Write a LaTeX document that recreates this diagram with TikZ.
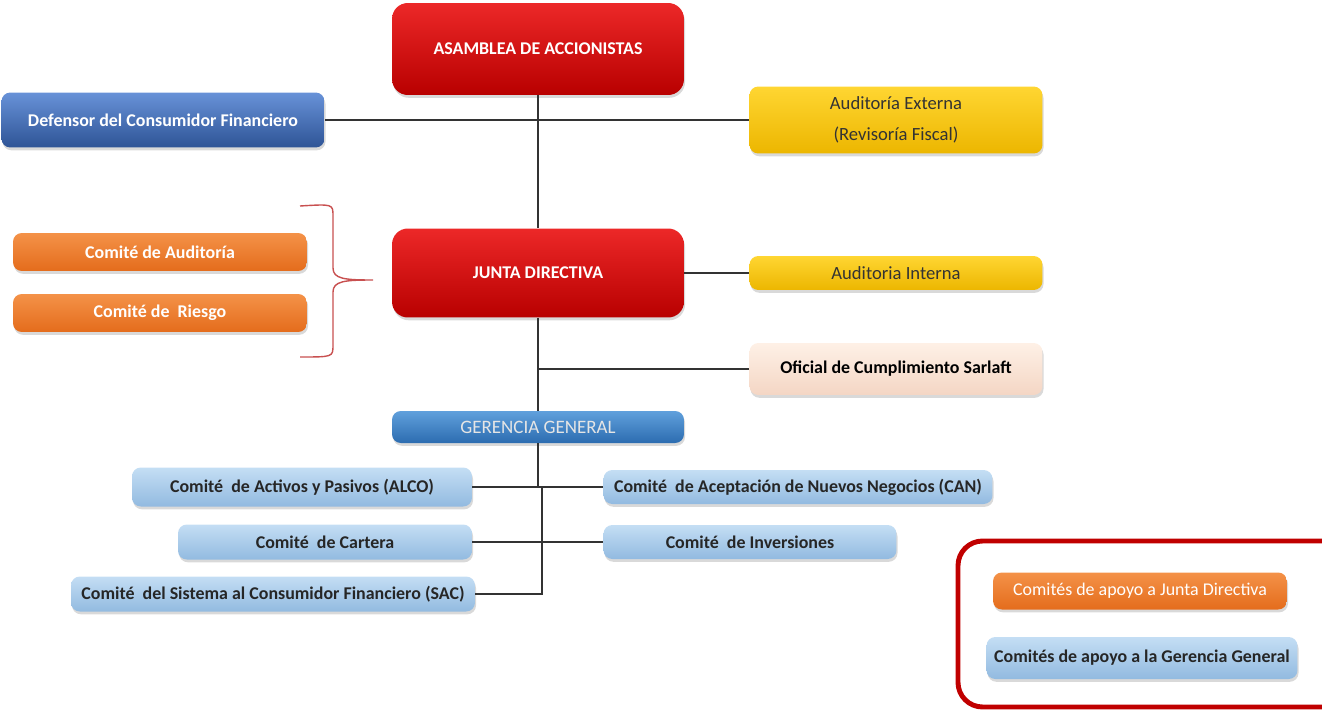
\documentclass[tikz,border=0pt]{standalone}
\usepackage{fontspec}
\setmainfont{Carlito}
\usepackage{tikz}
\usetikzlibrary{positioning,shadows}

\definecolor{rojoA}{RGB}{236,40,40}
\definecolor{rojoB}{RGB}{184,0,0}
\definecolor{azulA}{RGB}{104,146,216}
\definecolor{azulB}{RGB}{46,84,150}
\definecolor{amaA}{RGB}{255,214,50}
\definecolor{amaB}{RGB}{236,182,0}
\definecolor{narA}{RGB}{244,146,72}
\definecolor{narB}{RGB}{228,108,28}
\definecolor{celA}{RGB}{196,222,244}
\definecolor{celB}{RGB}{146,186,224}
\definecolor{rosaA}{RGB}{254,240,230}
\definecolor{rosaB}{RGB}{244,214,196}
\definecolor{gerA}{RGB}{96,160,220}
\definecolor{gerB}{RGB}{44,108,176}
\definecolor{llave}{RGB}{200,80,80}
\definecolor{marco}{RGB}{192,0,0}

\tikzset{
    cargo/.style={shape=rectangle, rounded corners=5pt, inner sep=0pt, align=center,
        font=\fontsize{10.2}{12}\selectfont,
        drop shadow={opacity=0.3, shadow xshift=0.6pt, shadow yshift=-1.6pt}},
    rojo/.style={cargo, top color=rojoA, bottom color=rojoB, text=white, font=\fontsize{10.2}{12}\selectfont\bfseries, rounded corners=9pt},
    azul/.style={cargo, top color=azulA, bottom color=azulB, text=white, font=\fontsize{10.2}{12}\selectfont\bfseries},
    amarillo/.style={cargo, top color=amaA, bottom color=amaB, text=black!80, font=\fontsize{10.6}{12}\selectfont},
    naranja/.style={cargo, top color=narA, bottom color=narB, text=white, font=\fontsize{10.2}{12}\selectfont\bfseries},
    celeste/.style={cargo, top color=celA, bottom color=celB, text=black!85, font=\fontsize{10.2}{12}\selectfont\bfseries},
    linea/.style={draw=black!80, line width=0.6pt}
}

\begin{document}
\begin{tikzpicture}[x=0.02cm, y=-0.02cm]
    \useasboundingbox (0,0) rectangle (1322,710);

    % organos de gobierno
    \node[rojo, minimum width=5.84cm, minimum height=1.84cm] (Asamblea) at (538,49) {ASAMBLEA DE ACCIONISTAS};
    \node[azul, minimum width=6.46cm, minimum height=1.1cm] (Defensor) at (163,120) {Defensor del Consumidor Financiero};
    \node[amarillo, minimum width=5.86cm, minimum height=1.34cm, font=\fontsize{10.6}{17.5}\selectfont] (AuditoriaExterna) at (896,120) {Auditoría Externa\\(Revisoría Fiscal)};
    \node[rojo, minimum width=5.84cm, minimum height=1.78cm] (JuntaDirectiva) at (538,273) {JUNTA DIRECTIVA};
    \node[amarillo, minimum width=5.86cm, minimum height=0.68cm] (AuditoriaInterna) at (896,273) {Auditoria Interna};
    \node[naranja, minimum width=5.88cm, minimum height=0.76cm] (ComiteAuditoria) at (160,252) {Comité de Auditoría};
    \node[naranja, minimum width=5.88cm, minimum height=0.76cm] (ComiteRiesgo) at (160,313) {Comité de~~Riesgo};
    \node[cargo, top color=rosaA, bottom color=rosaB, font=\fontsize{10.2}{12}\selectfont\bfseries,
        minimum width=5.86cm, minimum height=1.04cm] (Oficial) at (896,369) {Oficial de Cumplimiento Sarlaft};
    \node[cargo, top color=gerA, bottom color=gerB, text=white!90!black, font=\fontsize{10.8}{12}\selectfont,
        minimum width=5.84cm, minimum height=0.64cm] (Gerencia) at (538,427) {GERENCIA GENERAL};

    % comites de la gerencia
    \node[celeste, minimum width=6.8cm, minimum height=0.78cm] (ALCO) at (302,487) {Comité~~de Activos y Pasivos (ALCO)};
    \node[celeste, minimum width=7.78cm, minimum height=0.68cm] (CAN) at (798,487) {Comité~~de Aceptación de Nuevos Negocios (CAN)};
    \node[celeste, minimum width=5.88cm, minimum height=0.7cm] (Cartera) at (325,542) {Comité~~de Cartera};
    \node[celeste, minimum width=5.86cm, minimum height=0.68cm] (Inversiones) at (750,542) {Comité~~de Inversiones};
    \node[celeste, minimum width=8.08cm, minimum height=0.7cm] (SAC) at (273,594) {Comité~~del Sistema al Consumidor Financiero (SAC)};

    % conexiones
    \draw[linea] (Asamblea.south) -- (JuntaDirectiva.north);
    \draw[linea] (Defensor.east) -- (AuditoriaExterna.west);
    \draw[linea] (JuntaDirectiva.east) -- (AuditoriaInterna.west);
    \draw[linea] (JuntaDirectiva.south) -- (Gerencia.north);
    \draw[linea] (Oficial.west) -- (Oficial.west -| JuntaDirectiva.south);
    \coordinate (Nudo) at (542,487);
    \draw[linea] (Gerencia.south) -- (Gerencia.south |- Nudo);
    \draw[linea] (ALCO.east) -- (CAN.west);
    \draw[linea] (Nudo) |- (SAC.east);
    \draw[linea] (Cartera.east) -- (Inversiones.west);

    % llave de los comites de apoyo
    \draw[llave, line width=0.8pt] (300,206) .. controls (333,204) .. (333,216) -- (333,268)
        .. controls (333,279) and (345,280) .. (373,280)
        .. controls (345,280) and (333,281) .. (333,292) -- (333,345)
        .. controls (333,357) .. (300,357);

    % convenciones
    \draw[marco, line width=2.8pt, rounded corners=14pt] (1340,541) -- (958,541) -- (958,707) -- (1340,707);
    \node[naranja, minimum width=5.88cm, minimum height=0.74cm, font=\fontsize{10.2}{12}\selectfont] (LeyendaJunta) at (1140,591) {Comités de apoyo a Junta Directiva};
    \node[celeste, minimum width=6.22cm, minimum height=0.84cm] (LeyendaGerencia) at (1142,658) {Comités de apoyo a la Gerencia General};
\end{tikzpicture}
\end{document}
